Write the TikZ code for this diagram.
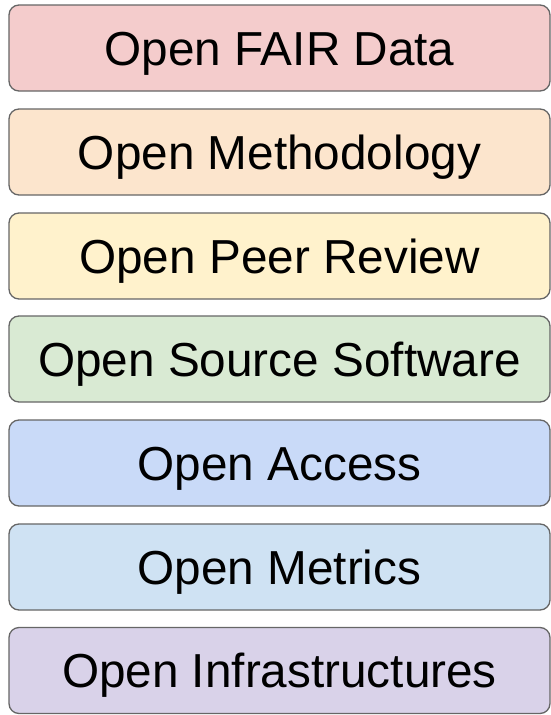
\documentclass[tikz,border=0pt]{standalone}
\usepackage{fontspec}
\setmainfont{Liberation Sans}
\usepackage{tikz}

\definecolor{edgegray}{HTML}{666666}
\definecolor{fairred}{HTML}{F4CCCC}
\definecolor{methorange}{HTML}{FCE5CD}
\definecolor{peeryellow}{HTML}{FFF2CC}
\definecolor{srcgreen}{HTML}{D9EAD3}
\definecolor{accblue}{HTML}{C9DAF8}
\definecolor{metrblue}{HTML}{CFE2F3}
\definecolor{infrapurple}{HTML}{D9D2E9}

\tikzset{
	openbox/.style={draw=edgegray, line width=1.3pt, rounded corners=10pt,
		minimum width=541pt, minimum height=86pt, inner sep=0pt,
		font=\fontsize{47.7}{50}\selectfont, text height=34pt, text depth=0pt}
}

\begin{document}
\begin{tikzpicture}[x=1pt, y=-1pt]
	\useasboundingbox (0,0) rectangle (551,715);
	\node[openbox, fill=fairred] (b1) at (279.5, 48) {Open FAIR Data};
	\node[openbox, fill=methorange] (b2) at (279.5, 152) {Open Methodology};
	\node[openbox, fill=peeryellow] (b3) at (279.5, 256) {Open Peer Review};
	\node[openbox, fill=srcgreen] (b4) at (279.5, 359) {Open Source Software};
	\node[openbox, fill=accblue] (b5) at (279.5, 463) {Open Access};
	\node[openbox, fill=metrblue] (b6) at (279.5, 567) {Open Metrics};
	\node[openbox, fill=infrapurple] (b7) at (279.5, 670.5) {Open Infrastructures};
\end{tikzpicture}
\end{document}
